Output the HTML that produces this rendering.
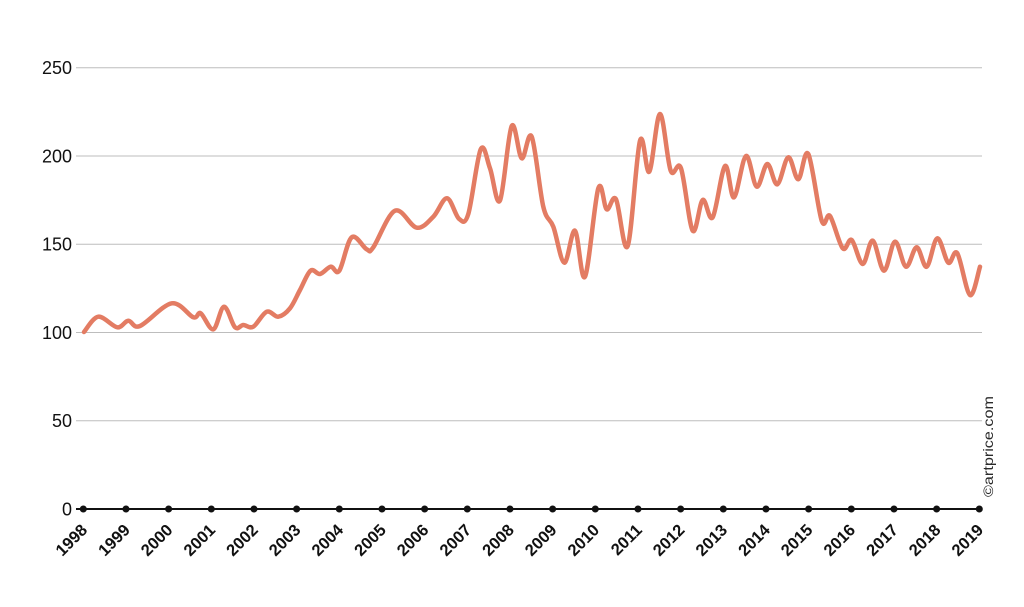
<!DOCTYPE html>
<html><head><meta charset="utf-8"><style>
html,body{margin:0;padding:0;background:#fff;}
svg{display:block;}
</style></head><body>
<svg id="c" width="1024" height="607" viewBox="0 0 1024 607" xmlns="http://www.w3.org/2000/svg">
<g stroke="#bdbdbd" stroke-width="1">
<line x1="76" y1="67.7" x2="982" y2="67.7"/>
<line x1="76" y1="156" x2="982" y2="156"/>
<line x1="76" y1="244.3" x2="982" y2="244.3"/>
<line x1="76" y1="332.5" x2="982" y2="332.5"/>
<line x1="76" y1="420.8" x2="982" y2="420.8"/>
</g>
<g font-family="Liberation Sans, sans-serif" font-size="18" fill="#111" text-anchor="end">
<text x="72" y="74">250</text>
<text x="72" y="162.3">200</text>
<text x="72" y="250.6">150</text>
<text x="72" y="338.8">100</text>
<text x="72" y="427.1">50</text>
<text x="72" y="515.3">0</text>
</g>
<path id="ln" fill="none" stroke="#e37c63" stroke-width="4.5" stroke-linejoin="round" stroke-linecap="round" d=""/>
<line x1="76" y1="509" x2="981" y2="509" stroke="#111" stroke-width="2"/>
<g id="dots" fill="#111"></g>
<g id="yrs" font-family="Liberation Sans, sans-serif" font-size="16.5" font-weight="bold" fill="#111" text-anchor="end"></g>
<text transform="translate(993,497) rotate(-90)" font-family="Liberation Sans, sans-serif" font-size="14" fill="#2a2a2a" textLength="101" lengthAdjust="spacingAndGlyphs">©artprice.com</text>
</svg>
<script>
var P=[[84,332],[98.3,316.7],[117.3,327.3],[128.3,320.7],[140,326],[171.7,303.3],[193.3,317.3],[200.7,313.3],[213.3,329.3],[224,306.7],[235,327.3],[243.3,325],[253.3,326.7],[266.7,311.7],[278.3,316.7],[290,308.3],[300,290],[310.5,270.7],[320,274],[330.7,266.7],[339.3,270.7],[351.7,237.3],[366.7,249.3],[373.3,247.3],[395,210.7],[416.7,227.7],[433.3,216.7],[447,198.3],[459,218.8],[468.3,214],[480.7,149.3],[490,168.3],[500,200.5],[511.7,126],[521.7,158.3],[531.7,136.7],[543.3,206.7],[553.3,226.7],[564.3,262.7],[575,230.7],[585,276.7],[598.3,188.3],[606.7,209.3],[616,199.3],[627.7,246],[640,140.7],[649.3,171.7],[660,114],[670.7,170.7],[681,168.3],[692.7,230.7],[702.7,200],[712.7,217.3],[725,166],[734,197.3],[746,156],[756.7,186.7],[767.3,164],[777.3,184.3],[788.3,157.3],[798.3,179.3],[808.3,154],[821.7,220.7],[830,216],[842.7,248.3],[851.7,240],[862.7,264],[872.7,240.7],[884,270.7],[895,241.7],[906,266.7],[916.7,247.3],[926.7,266.7],[937.3,238.3],[948.3,262.7],[957.3,253.3],[970,295],[980,266.7]];
var d="M"+P[0][0]+","+P[0][1];
for(var i=0;i<P.length-1;i++){
 var p0=P[i-1]||P[i],p1=P[i],p2=P[i+1],p3=P[i+2]||P[i+1];
 var c1x=p1[0]+(p2[0]-p0[0])/6,c1y=p1[1]+(p2[1]-p0[1])/6;
 var c2x=p2[0]-(p3[0]-p1[0])/6,c2y=p2[1]-(p3[1]-p1[1])/6;
 d+=" C"+c1x.toFixed(2)+","+c1y.toFixed(2)+" "+c2x.toFixed(2)+","+c2y.toFixed(2)+" "+p2[0]+","+p2[1];
}
document.getElementById("ln").setAttribute("d",d);
var NS="http://www.w3.org/2000/svg",dots=document.getElementById("dots"),yrs=document.getElementById("yrs");
for(var k=0;k<=21;k++){
 var x=83.3+k*42.667;
 var c=document.createElementNS(NS,"circle");c.setAttribute("cx",x.toFixed(2));c.setAttribute("cy","509");c.setAttribute("r","3.5");dots.appendChild(c);
 var t=document.createElementNS(NS,"text");t.setAttribute("transform","translate("+(x+5).toFixed(2)+",531) rotate(-45)");t.textContent=String(1998+k);yrs.appendChild(t);
}
</script>
</body></html>
